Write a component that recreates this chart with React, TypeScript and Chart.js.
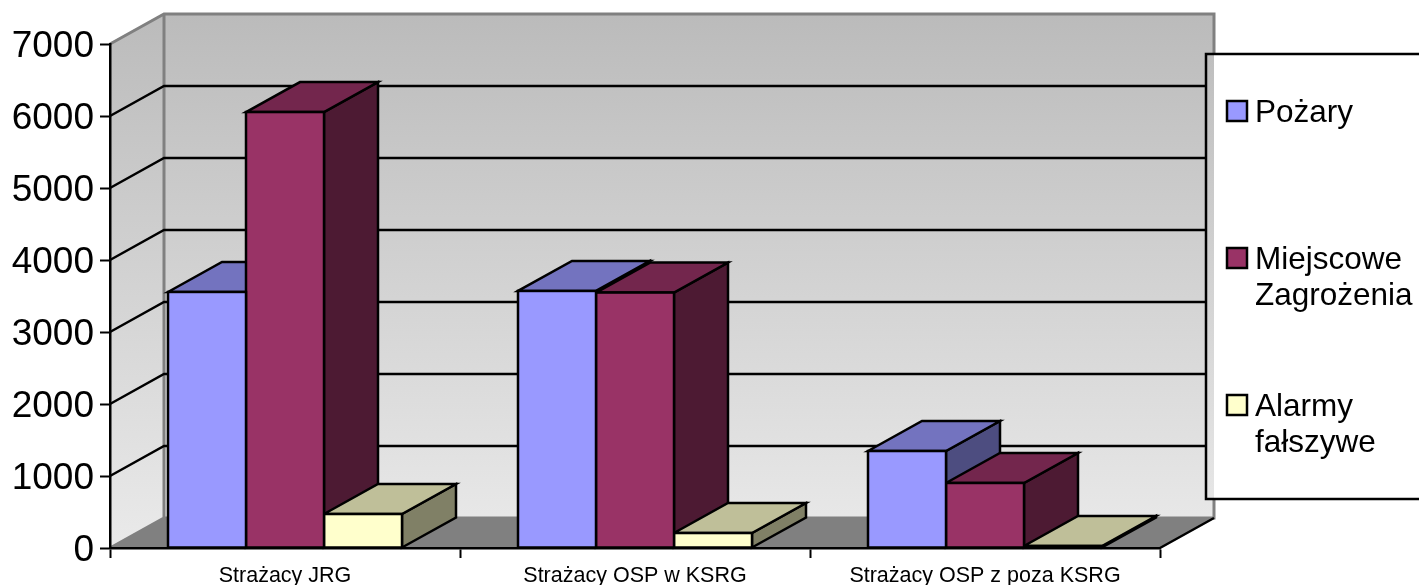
import React, { useEffect, useRef } from "react";
import { Chart, registerables } from "chart.js";

Chart.register(...registerables);

const categories = ["Strażacy JRG", "Strażacy OSP w KSRG", "Strażacy OSP z poza KSRG"];
const pozary = [3556, 3570, 1347];
const miejscowe = [6055, 3548, 903];
const alarmy = [472, 208, 28];
const seriesNames = ["Pożary", "Miejscowe Zagrożenia", "Alarmy fałszywe"];
const legendLines = [["Pożary"], ["Miejscowe", "Zagrożenia"], ["Alarmy", "fałszywe"]];

const FONT = '"Liberation Sans", Arial, sans-serif';
const DX = 54;
const DY = 30;
const LW = 2.5;
const LEGEND = { x: 1206, y: 54, bottom: 499 };
const LEGEND_ROWS = [111, 258, 405];

const faces = [
  { front: "#9999FF", top: "#7373BF", side: "#4D4D80" },
  { front: "#993366", top: "#73264D", side: "#4D1A33" },
  { front: "#FFFFCC", top: "#BFBF99", side: "#808066" },
];

function poly(ctx: CanvasRenderingContext2D, pts: number[][]) {
  ctx.beginPath();
  pts.forEach(([x, y], i) => (i ? ctx.lineTo(x, y) : ctx.moveTo(x, y)));
  ctx.closePath();
}

const box3d = {
  id: "box3d",
  beforeDraw(chart: any) {
    const { ctx, chartArea: a, scales } = chart;
    const y = scales.y;
    const L = a.left, R = a.right, T = a.top, B = a.bottom;
    ctx.save();
    const grad = ctx.createLinearGradient(0, T - DY, 0, B);
    grad.addColorStop(0, "#BBBBBB");
    grad.addColorStop(1, "#EAEAEA");
    ctx.fillStyle = grad;
    ctx.fillRect(L + DX, T - DY, R - L, B - T);
    poly(ctx, [[L, T], [L + DX, T - DY], [L + DX, B - DY], [L, B]]);
    ctx.fill();
    ctx.fillStyle = "#808080";
    poly(ctx, [[L, B], [L + DX, B - DY], [R + DX, B - DY], [R, B]]);
    ctx.fill();

    ctx.strokeStyle = "#808080";
    ctx.lineWidth = 3;
    ctx.beginPath();
    ctx.moveTo(L, T);
    ctx.lineTo(L + DX, T - DY);
    ctx.lineTo(R + DX, T - DY);
    ctx.lineTo(R + DX, LEGEND.y);
    ctx.moveTo(R + DX, LEGEND.bottom);
    ctx.lineTo(R + DX, B - DY);
    ctx.lineTo(L + DX, B - DY);
    ctx.lineTo(L, B);
    ctx.moveTo(L + DX, T - DY);
    ctx.lineTo(L + DX, B - DY);
    ctx.stroke();

    ctx.strokeStyle = "#000000";
    ctx.lineWidth = LW;
    ctx.beginPath();
    for (const t of y.ticks) {
      if (t.value === y.min || t.value === y.max) continue;
      const py = y.getPixelForValue(t.value);
      ctx.moveTo(L, py);
      ctx.lineTo(L + DX, py - DY);
      ctx.lineTo(LEGEND.x, py - DY);
    }
    ctx.moveTo(R, B);
    ctx.lineTo(R + DX, B - DY);
    ctx.stroke();
    ctx.restore();
  },
  beforeDatasetsDraw(chart: any) {
    const { ctx } = chart;
    ctx.save();
    ctx.strokeStyle = "#000000";
    ctx.lineWidth = LW;
    ctx.lineJoin = "miter";
    chart.data.datasets.forEach((_: any, i: number) => {
      const f = faces[i];
      for (const el of chart.getDatasetMeta(i).data) {
        const x0 = el.x - el.width / 2;
        const x1 = el.x + el.width / 2;
        const t = el.y;
        const b = el.base;
        poly(ctx, [[x1, t], [x1 + DX, t - DY], [x1 + DX, b - DY], [x1, b]]);
        ctx.fillStyle = f.side;
        ctx.fill();
        ctx.stroke();
        poly(ctx, [[x0, t], [x0 + DX, t - DY], [x1 + DX, t - DY], [x1, t]]);
        ctx.fillStyle = f.top;
        ctx.fill();
        ctx.stroke();
      }
    });
    ctx.restore();
  },
  afterDatasetDraw(chart: any, args: any) {
    const { ctx } = chart;
    ctx.save();
    ctx.strokeStyle = "#000000";
    ctx.lineWidth = LW;
    for (const el of args.meta.data) {
      ctx.strokeRect(el.x - el.width / 2, el.y, el.width, el.base - el.y);
    }
    ctx.restore();
  },
  afterDraw(chart: any) {
    const { ctx, width } = chart;
    ctx.save();
    ctx.fillStyle = "#FFFFFF";
    ctx.fillRect(1214.5, LEGEND.y, width, LEGEND.bottom - LEGEND.y);
    ctx.strokeStyle = "#000000";
    ctx.lineWidth = LW;
    ctx.strokeRect(LEGEND.x, LEGEND.y, width, LEGEND.bottom - LEGEND.y);
    ctx.font = `31.5px ${FONT}`;
    ctx.textBaseline = "middle";
    ctx.textAlign = "left";
    legendLines.forEach((lines, i) => {
      const cy = LEGEND_ROWS[i];
      ctx.fillStyle = faces[i].front;
      ctx.fillRect(1227, cy - 10, 20, 20);
      ctx.strokeRect(1227, cy - 10, 20, 20);
      ctx.fillStyle = "#000000";
      lines.forEach((line, j) => ctx.fillText(line, 1255, cy + 2 + j * 36));
    });
    ctx.restore();
  },
};

export default function App() {
  const ref = useRef<HTMLCanvasElement>(null);
  useEffect(() => {
    const chart = new Chart(ref.current!, {
      type: "bar",
      data: {
        labels: categories,
        datasets: [pozary, miejscowe, alarmy].map((data, i) => ({
          label: seriesNames[i],
          data,
          backgroundColor: faces[i].front,
          borderWidth: 0,
          barPercentage: 1,
          categoryPercentage: 234 / 350,
        })),
      },
      options: {
        responsive: false,
        animation: false,
        devicePixelRatio: 1,
        layout: { padding: { left: 0, top: 44, right: 259, bottom: 0 } },
        plugins: { legend: { display: false }, tooltip: { enabled: false }, title: { display: false } },
        scales: {
          x: {
            afterFit: (s: any) => { s.height = 37; },
            grid: { drawOnChartArea: false, drawTicks: true, tickLength: 10, tickColor: "#000000", tickWidth: 2 },
            border: { display: true, color: "#000000", width: 2.5 },
            ticks: { font: { family: FONT, size: 21.5 }, color: "#000000", padding: 5, maxRotation: 0 },
          },
          y: {
            min: 0,
            max: 7000,
            afterFit: (s: any) => { s.width = 110; },
            grid: { drawOnChartArea: false, drawTicks: true, tickLength: 10, tickColor: "#000000", tickWidth: 2 },
            border: { display: true, color: "#000000", width: 2.5 },
            ticks: {
              stepSize: 1000,
              font: { family: FONT, size: 37 },
              color: "#000000",
              padding: 6,
              labelOffset: 3,
              callback: (v: any) => String(v),
            },
          },
        },
      },
      plugins: [box3d],
    } as any);
    return () => chart.destroy();
  }, []);
  return (
    <canvas
      ref={ref}
      width={1419}
      height={585}
      style={{ position: "fixed", left: 0, top: 0, width: 1419, height: 585, display: "block" }}
    />
  );
}
